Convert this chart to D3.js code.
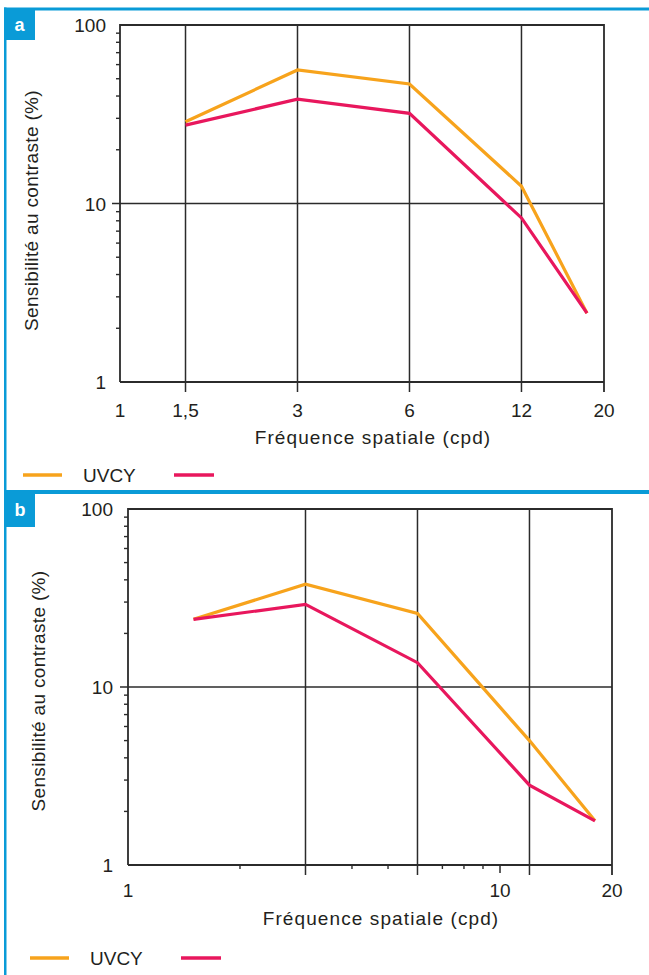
<!DOCTYPE html>
<html>
<head>
<meta charset="utf-8">
<script src="https://cdn.jsdelivr.net/npm/d3@7"></script>
<style>
  html, body { margin: 0; padding: 0; background: #fff; }
  svg { display: block; }
  text { font-family: "Liberation Sans", Arial, Helvetica, sans-serif; fill: #231f20; }
</style>
</head>
<body>
<svg id="chart" width="649" height="975"></svg>
<script>
// ---------- data ----------
const seriesNames = ["UVCY", ""];
const seriesColors = ["#f7a31c", "#e8175d"];

const freqA = [1.5, 3, 6, 12, 18];
const uvcyA = [28.7, 56, 46.7, 12.5, 2.43];
const otherA = [27.5, 38.4, 32, 8.3, 2.43];

const freqB = [1.5, 3, 6, 12, 18];
const uvcyB = [24, 37.8, 25.9, 5.0, 1.77];
const otherB = [24, 29.1, 13.7, 2.81, 1.77];

const xTickValuesA = [1, 1.5, 3, 6, 12, 20];
const xTickLabelsA = ["1", "1,5", "3", "6", "12", "20"];
const xGridA = [1.5, 3, 6, 12];

const xTickValuesB = [1, 10, 20];
const xTickLabelsB = ["1", "10", "20"];
const xGridB = [3, 6, 12];
const xMinorB = [2, 4, 5, 7, 8, 9];
const xMidTickB = [10];

const yTickValues = [1, 10, 100];
const yTickLabels = ["1", "10", "100"];
const yMinor = [2, 3, 4, 5, 6, 7, 8, 9, 20, 30, 40, 50, 60, 70, 80, 90];

const panelLetters = ["a", "b"];
const xTitle = "Fréquence spatiale (cpd)";
const yTitle = "Sensibilité au contraste (%)";

// ---------- drawing ----------
const svg = d3.select("#chart");
const blue = "#0a9bd7";
const ink = "#2b2b2b";

// frame borders
svg.append("rect").attr("x", 4).attr("y", 7.5).attr("width", 660).attr("height", 3).attr("fill", blue);
svg.append("rect").attr("x", 4).attr("y", 7.5).attr("width", 2.5).attr("height", 975).attr("fill", blue);
svg.append("rect").attr("x", 4).attr("y", 490).attr("width", 660).attr("height", 4).attr("fill", blue);

const panels = [
  { letter: panelLetters[0], box: [4, 9, 31, 31], left: 120, right: 604, top: 25, bottom: 382,
    freq: freqA, series: [uvcyA, otherA], xt: xTickValuesA, xl: xTickLabelsA, grid: xGridA,
    minor: [], mid: [], xLabelY: 417, xTitleY: 444, yTitleX: 38, yTitleShift: 7, legendY: 475, legendX: 23,
    yLabelX: 106 },
  { letter: panelLetters[1], box: [5, 493, 30, 34], left: 128, right: 612, top: 509, bottom: 865,
    freq: freqB, series: [uvcyB, otherB], xt: xTickValuesB, xl: xTickLabelsB, grid: xGridB,
    minor: xMinorB, mid: xMidTickB, xLabelY: 897, xTitleY: 925, yTitleX: 45, yTitleShift: 4, legendY: 958, legendX: 30,
    yLabelX: 113 }
];

panels.forEach(p => {
  const g = svg.append("g");
  // letter box
  g.append("rect").attr("x", p.box[0]).attr("y", p.box[1]).attr("width", p.box[2]).attr("height", p.box[3]).attr("fill", blue);
  g.append("text").attr("x", p.box[0] + p.box[2] / 2).attr("y", p.box[1] + p.box[3] / 2 + 6)
    .attr("text-anchor", "middle").style("font-weight", "bold").style("font-size", "18px")
    .style("fill", "#fff").text(p.letter);

  const x = d3.scaleLog().domain([1, 20]).range([p.left, p.right]);
  const y = d3.scaleLog().domain([1, 100]).range([p.bottom, p.top]);

  // y minor ticks
  g.selectAll(".ymin").data(yMinor).enter().append("line")
    .attr("x1", p.left - 4).attr("x2", p.left).attr("y1", d => y(d)).attr("y2", d => y(d))
    .attr("stroke", ink).attr("stroke-width", 1.4);
  // y grid at 10 with outward tick
  g.append("line").attr("x1", p.left - 8).attr("x2", p.right).attr("y1", y(10)).attr("y2", y(10))
    .attr("stroke", ink).attr("stroke-width", 1.5);
  // x minor ticks
  g.selectAll(".xmin").data(p.minor).enter().append("line")
    .attr("x1", d => x(d)).attr("x2", d => x(d)).attr("y1", p.bottom).attr("y2", p.bottom + 4)
    .attr("stroke", ink).attr("stroke-width", 1.4);
  g.selectAll(".xmid").data(p.mid).enter().append("line")
    .attr("x1", d => x(d)).attr("x2", d => x(d)).attr("y1", p.bottom).attr("y2", p.bottom + 8)
    .attr("stroke", ink).attr("stroke-width", 1.5);
  // x gridlines with downward ticks
  g.selectAll(".xgrid").data(p.grid).enter().append("line")
    .attr("x1", d => x(d)).attr("x2", d => x(d)).attr("y1", p.top).attr("y2", p.bottom + 10)
    .attr("stroke", ink).attr("stroke-width", 1.5);
  // frame
  g.append("path")
    .attr("d", `M${p.left},${p.bottom}V${p.top}H${p.right}V${p.bottom + 10}M${p.left},${p.bottom}H${p.right}`)
    .attr("fill", "none").attr("stroke", ink).attr("stroke-width", 1.8);

  // tick labels
  g.selectAll(".xl").data(p.xt).enter().append("text")
    .attr("x", d => x(d)).attr("y", p.xLabelY).attr("text-anchor", "middle")
    .style("font-size", "19px").text((d, i) => p.xl[i]);
  g.selectAll(".yl").data(yTickValues).enter().append("text")
    .attr("x", p.yLabelX).attr("y", d => y(d) + 7).attr("text-anchor", "end")
    .style("font-size", "19px").text((d, i) => yTickLabels[i]);

  // titles
  g.append("text").attr("x", p.left + 253).attr("y", p.xTitleY).attr("text-anchor", "middle")
    .style("font-size", "19px").style("letter-spacing", "1.1px").text(xTitle);
  g.append("text").attr("transform", `translate(${p.yTitleX},${(p.top + p.bottom) / 2 + p.yTitleShift}) rotate(-90)`)
    .attr("text-anchor", "middle").style("font-size", "19px").style("letter-spacing", "0.35px").text(yTitle);

  // lines
  const line = d3.line().x(d => x(d[0])).y(d => y(d[1]));
  p.series.forEach((vals, si) => {
    g.append("path").datum(p.freq.map((f, i) => [f, vals[i]]))
      .attr("d", line).attr("fill", "none").attr("stroke", seriesColors[si])
      .attr("stroke-width", 3.2).attr("stroke-linejoin", "miter");
  });

  // legend
  const lg = g.append("g").attr("transform", `translate(${p.legendX},${p.legendY})`);
  lg.append("line").attr("x1", 0).attr("x2", 39).attr("stroke", seriesColors[0]).attr("stroke-width", 3.5);
  lg.append("text").attr("x", 60).attr("y", 7).style("font-size", "19px").text(seriesNames[0]);
  lg.append("line").attr("x1", 151).attr("x2", 191).attr("stroke", seriesColors[1]).attr("stroke-width", 3.5);
});
</script>
</body>
</html>
